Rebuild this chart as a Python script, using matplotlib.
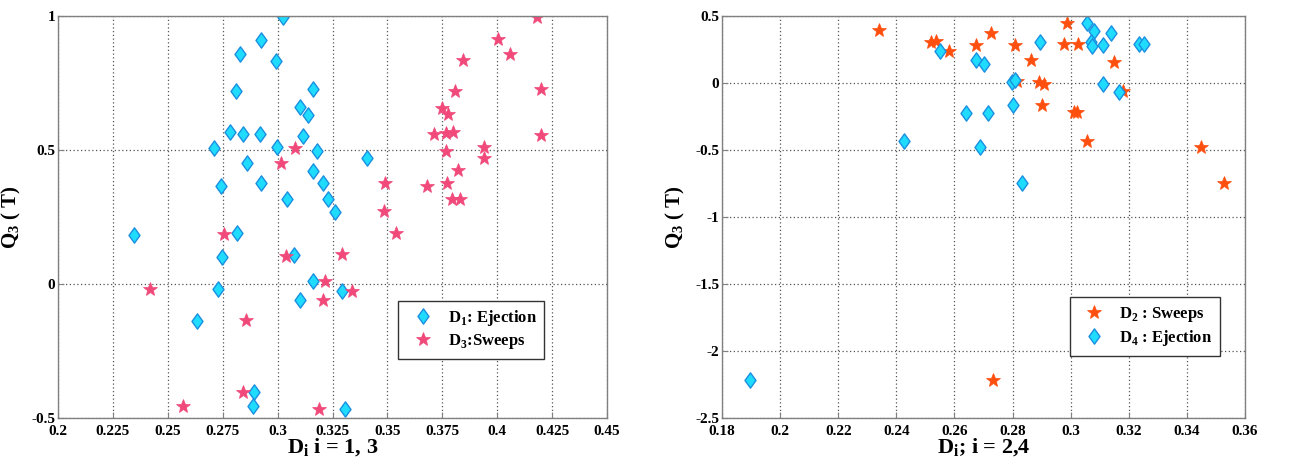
import numpy as np
import matplotlib
matplotlib.use("Agg")
import matplotlib.pyplot as plt
from matplotlib.path import Path
from matplotlib.ticker import FormatStrFormatter

plt.rcParams['font.family'] = ['Liberation Serif', 'DejaVu Serif']
plt.rcParams['font.weight'] = 'bold'
plt.rcParams['mathtext.fontset'] = 'custom'
plt.rcParams['mathtext.rm'] = 'Liberation Serif:bold'
plt.rcParams['mathtext.bf'] = 'Liberation Serif:bold'

# D1 ejection events (left panel)
d1_x = [0.3024, 0.2923, 0.2828, 0.2991, 0.2810, 0.3163, 0.3102, 0.3137, 0.2782, 0.2843,
        0.2920, 0.3114, 0.2710, 0.2995, 0.3181, 0.2862, 0.3163, 0.2740, 0.2923, 0.3208,
        0.3043, 0.3229, 0.3262, 0.2347, 0.2813, 0.3405, 0.2745, 0.3074, 0.3159, 0.2730,
        0.3294, 0.3102, 0.2632, 0.2893, 0.2888, 0.3307]
d1_q = [0.995, 0.910, 0.858, 0.833, 0.720, 0.726, 0.659, 0.630, 0.566, 0.558,
        0.561, 0.553, 0.506, 0.511, 0.497, 0.450, 0.423, 0.367, 0.378, 0.376,
        0.316, 0.318, 0.270, 0.183, 0.189, 0.469, 0.100, 0.109, 0.010, -0.019,
        -0.027, -0.061, -0.139, -0.404, -0.456, -0.465]

# D3 sweep events (left panel)
d3_x = [0.3080, 0.3013, 0.2755, 0.3036, 0.3294, 0.3215, 0.3340, 0.3208, 0.2417, 0.2858,
        0.2840, 0.2571, 0.3190, 0.3489, 0.3486, 0.3540, 0.3680, 0.3773, 0.3820, 0.3794,
        0.3832, 0.3765, 0.3713, 0.3767, 0.3797, 0.3747, 0.3774, 0.3806, 0.3845, 0.3939,
        0.3939, 0.4003, 0.4058, 0.4180, 0.4198, 0.4198]
d3_q = [0.509, 0.453, 0.185, 0.103, 0.113, 0.010, -0.027, -0.061, -0.019, -0.136,
        -0.404, -0.456, -0.465, 0.376, 0.274, 0.192, 0.367, 0.378, 0.425, 0.317,
        0.317, 0.497, 0.560, 0.562, 0.567, 0.658, 0.633, 0.721, 0.836, 0.512,
        0.471, 0.913, 0.858, 0.997, 0.726, 0.556]

# D2 sweep events (right panel)
d2_x = [0.2342, 0.2521, 0.2536, 0.2583, 0.2675, 0.2725, 0.2810, 0.2862, 0.2814, 0.2890,
        0.2909, 0.2901, 0.2986, 0.2976, 0.3025, 0.3150, 0.3011, 0.3022, 0.3058, 0.3181,
        0.3450, 0.3527, 0.2734]
d2_q = [0.395, 0.3025, 0.310, 0.2375, 0.285, 0.375, 0.285, 0.173, 0.0125, 0.0075,
        -0.010, -0.1675, 0.445, 0.290, 0.290, 0.153, -0.2175, -0.2175, -0.430, -0.060,
        -0.480, -0.750, -2.218]

# D4 ejection events (right panel)
d4_x = [0.2549, 0.2675, 0.2703, 0.2798, 0.2810, 0.2640, 0.2716, 0.2800, 0.2427, 0.2689,
        0.2833, 0.2894, 0.3058, 0.3082, 0.3139, 0.3071, 0.3074, 0.3113, 0.3236, 0.3252,
        0.3113, 0.3165, 0.1896]
d4_q = [0.2375, 0.170, 0.145, 0.0075, 0.020, -0.2225, -0.2225, -0.1675, -0.430, -0.480,
        -0.750, 0.3025, 0.445, 0.390, 0.370, 0.3075, 0.275, 0.2825, 0.290, 0.290,
        -0.010, -0.0675, -2.220]

left_xticks = np.arange(0.2, 0.4501, 0.025)
left_yticks = [-0.5, 0, 0.5, 1]
right_xticks = np.arange(0.18, 0.3601, 0.02)
right_yticks = [-2.5, -2, -1.5, -1, -0.5, 0, 0.5]

cyan = '#1fdcff'
cyan_edge = '#1a8fe0'
pink = '#f0497a'
orange = '#ff4f0f'

# diamond a little wider than matplotlib's thin 'd'
diamond = Path([(0, 1), (0.72, 0), (0, -1), (-0.72, 0), (0, 1)],
               [Path.MOVETO, Path.LINETO, Path.LINETO, Path.LINETO, Path.CLOSEPOLY])

fig = plt.figure(figsize=(12.99, 4.61), dpi=100)
ax1 = fig.add_axes([0.0447, 0.0933, 0.4226, 0.872])
ax2 = fig.add_axes([0.5558, 0.0933, 0.4026, 0.872])


def style_axes(ax):
    ax.grid(True, linestyle=(0, (1, 2)), color='#555555', linewidth=0.9)
    ax.set_axisbelow(True)
    for sp in ax.spines.values():
        sp.set_color('#808080')
        sp.set_linewidth(1.0)
    ax.tick_params(direction='in', length=4, color='#808080', labelsize=11)
    ax.tick_params(axis='x', pad=5)
    ax.tick_params(axis='y', pad=2)
    for lbl in ax.get_xticklabels() + ax.get_yticklabels():
        lbl.set_fontweight('bold')


# left panel
ax1.plot(d1_x, d1_q, linestyle='none', marker=diamond, ms=11, mfc=cyan, mec=cyan_edge,
         mew=1.0, label=r'D$_1$: Ejection')
ax1.plot(d3_x, d3_q, linestyle='none', marker='*', ms=10, mfc=pink, mec=pink,
         mew=0.5, label=r'D$_3$:Sweeps')
ax1.set_xlim(0.2, 0.45)
ax1.set_ylim(-0.5, 1)
ax1.set_xticks(left_xticks)
ax1.set_yticks(left_yticks)
ax1.xaxis.set_major_formatter(FormatStrFormatter('%g'))
ax1.yaxis.set_major_formatter(FormatStrFormatter('%g'))
ax1.set_xlabel(r'D$_\mathregular{i}$ i = 1, 3', fontsize=16, fontweight='bold', labelpad=-1)
ax1.set_ylabel(r'Q$_3$ ( T)', fontsize=15, fontweight='bold', labelpad=6)
style_axes(ax1)
leg1 = ax1.legend(loc='upper left', bbox_to_anchor=(0.62, 0.292),
                  fancybox=False, edgecolor='#333333', framealpha=1, fontsize=12,
                  handletextpad=0.5, borderpad=0.45, labelspacing=0.25, borderaxespad=0)
leg1.get_frame().set_linewidth(1.0)

# right panel
ax2.plot(d2_x, d2_q, linestyle='none', marker='*', ms=10, mfc=orange, mec=orange,
         mew=0.5, label=r'D$_2$ : Sweeps')
ax2.plot(d4_x, d4_q, linestyle='none', marker=diamond, ms=11, mfc=cyan, mec=cyan_edge,
         mew=1.0, label=r'D$_4$ : Ejection')
ax2.set_xlim(0.18, 0.36)
ax2.set_ylim(-2.5, 0.5)
ax2.set_xticks(right_xticks)
ax2.set_yticks(right_yticks)
ax2.xaxis.set_major_formatter(FormatStrFormatter('%g'))
ax2.yaxis.set_major_formatter(FormatStrFormatter('%g'))
ax2.set_xlabel(r'D$_\mathregular{i}$; i = 2,4', fontsize=16, fontweight='bold', labelpad=-1)
ax2.set_ylabel(r'Q$_3$ ( T)', fontsize=15, fontweight='bold', labelpad=6)
style_axes(ax2)
leg2 = ax2.legend(loc='upper left', bbox_to_anchor=(0.666, 0.30),
                  fancybox=False, edgecolor='#333333', framealpha=1, fontsize=12,
                  handletextpad=0.5, borderpad=0.45, labelspacing=0.25, borderaxespad=0)
leg2.get_frame().set_linewidth(1.0)

fig.savefig('out.png', dpi=100)
plt.close(fig)
